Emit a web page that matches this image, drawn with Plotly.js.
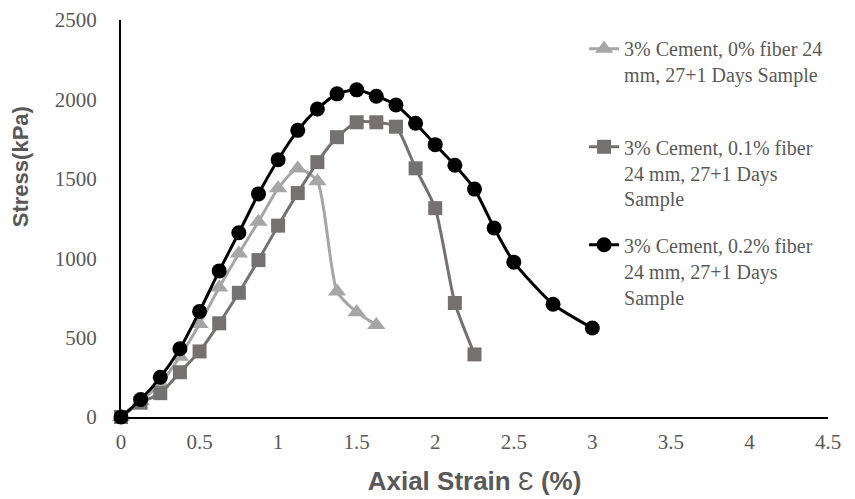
<!DOCTYPE html>
<html>
<head>
<meta charset="utf-8">
<script src="https://cdn.plot.ly/plotly-3.0.1.min.js"></script>
<style>html,body{margin:0;padding:0;background:#fff;}#chart{width:855px;height:499px;}</style>
</head>
<body>
<div id="chart"></div>
<script>
// Data
const strain0 = [0, 0.125, 0.25, 0.375, 0.5, 0.625, 0.75, 0.875, 1.0, 1.125, 1.25, 1.375, 1.5, 1.625];
const stress0 = [0, 100, 210, 380, 585, 815, 1030, 1230, 1440, 1565, 1485, 790, 660, 580];

const strain1 = [0, 0.125, 0.25, 0.375, 0.5, 0.625, 0.75, 0.875, 1.0, 1.125, 1.25, 1.375, 1.5, 1.625, 1.75, 1.875, 2.0, 2.125, 2.25];
const stress1 = [0, 90, 150, 282, 413, 590, 782, 988, 1205, 1410, 1605, 1762, 1856, 1856, 1828, 1566, 1315, 718, 394];

const strain2 = [0, 0.125, 0.25, 0.375, 0.5, 0.625, 0.75, 0.875, 1.0, 1.125, 1.25, 1.375, 1.5, 1.625, 1.75, 1.875, 2.0, 2.125, 2.25, 2.375, 2.5, 2.75, 3.0];
const stress2 = [0, 110, 250, 430, 665, 920, 1160, 1405, 1620, 1805, 1940, 2035, 2060, 2020, 1965, 1850, 1715, 1585, 1435, 1190, 975, 710, 560];

const seriesNames = [
  "3% Cement, 0% fiber 24<br>mm, 27+1 Days Sample",
  "3% Cement, 0.1% fiber<br>24 mm, 27+1 Days<br>Sample",
  "3% Cement, 0.2% fiber<br>24 mm, 27+1 Days<br>Sample"
];
const xTickVals = [0, 0.5, 1, 1.5, 2, 2.5, 3, 3.5, 4, 4.5];
const xTickText = ["0", "0.5", "1", "1.5", "2", "2.5", "3", "3.5", "4", "4.5"];
const yTickVals = [0, 500, 1000, 1500, 2000, 2500];
const yTickText = ["0", "500", "1000", "1500", "2000", "2500"];

const traces = [
  {x: strain0, y: stress0, name: seriesNames[0], legend: "legend", type: "scatter", mode: "lines+markers",
   line: {color: "#A6A6A6", width: 3, shape: "spline", smoothing: 0.6},
   marker: {symbol: "triangle-up", size: 16, color: "#A6A6A6"}, cliponaxis: false},
  {x: strain1, y: stress1, name: seriesNames[1], legend: "legend2", type: "scatter", mode: "lines+markers",
   line: {color: "#767171", width: 3, shape: "spline", smoothing: 0.6},
   marker: {symbol: "square", size: 14, color: "#767171"}, cliponaxis: false},
  {x: strain2, y: stress2, name: seriesNames[2], legend: "legend3", type: "scatter", mode: "lines+markers",
   line: {color: "#000000", width: 3, shape: "spline", smoothing: 0.6},
   marker: {symbol: "circle", size: 15, color: "#000000"}, cliponaxis: false}
];

const tickFont = {family: "Liberation Serif, Times New Roman, serif", size: 21, color: "#595959"};
const xTitleFont = {family: "Liberation Sans, Arial, sans-serif", size: 26, color: "#595959"};
const yTitleFont = {family: "Liberation Sans, Arial, sans-serif", size: 22, color: "#595959"};
const legendFont = {family: "Liberation Serif, Times New Roman, serif", size: 20, color: "#595959"};

function legendAt(y) {
  return {x: 0.655, y: y, xanchor: "left", yanchor: "top", font: legendFont,
          valign: "top", bgcolor: "rgba(0,0,0,0)"};
}

const layout = {
  width: 855, height: 499,
  margin: {l: 121, r: 27, t: 20, b: 82, pad: 0},
  paper_bgcolor: "#ffffff", plot_bgcolor: "#ffffff",
  showlegend: true,
  legend: legendAt(0.977),
  legend2: legendAt(0.730),
  legend3: legendAt(0.483),
  xaxis: {
    range: [0, 4.5], tickmode: "array", tickvals: xTickVals, ticktext: xTickText,
    showgrid: false, zeroline: false, showline: true, linecolor: "#000000", linewidth: 2,
    ticks: "", tickfont: tickFont, ticklabelstandoff: 5,
    title: {text: "<b>Axial Strain</b> Ɛ <b>(%)</b>", font: xTitleFont, standoff: 19}
  },
  yaxis: {
    range: [0, 2500], tickmode: "array", tickvals: yTickVals, ticktext: yTickText,
    showgrid: false, zeroline: false, showline: true, linecolor: "#000000", linewidth: 2,
    ticks: "", tickfont: tickFont, ticklabelstandoff: 18,
    title: {text: ""}
  },
  annotations: [{
    text: "<b>Stress(kPa)</b>", font: yTitleFont, textangle: -90,
    xref: "paper", yref: "paper", x: -0.141, y: 0.63, xanchor: "center", yanchor: "middle",
    showarrow: false
  }]
};

Plotly.newPlot("chart", traces, layout, {displayModeBar: false, staticPlot: true});
</script>
</body>
</html>
